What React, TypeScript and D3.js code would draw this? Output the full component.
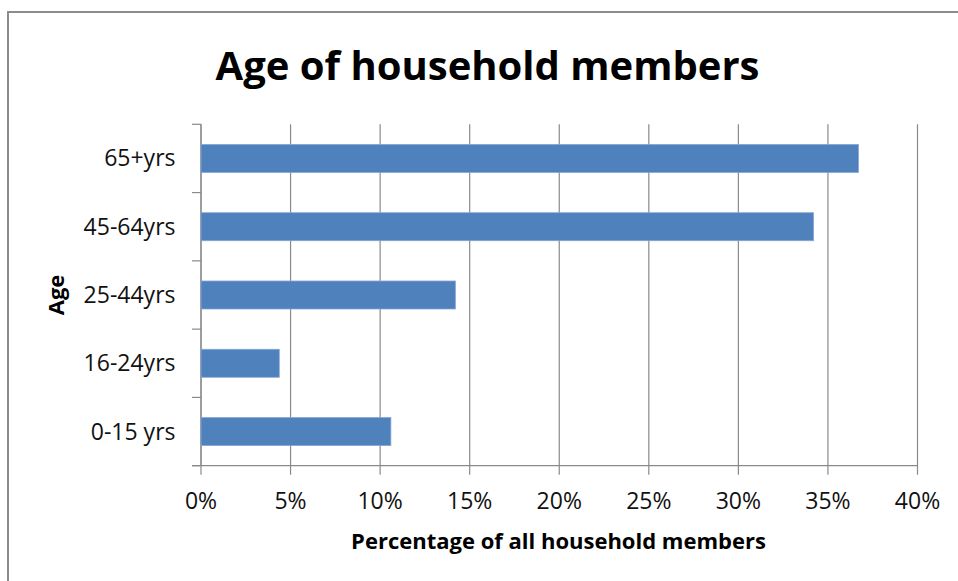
import React from "react";
import * as d3 from "d3";

const categories: string[] = ["65+yrs", "45-64yrs", "25-44yrs", "16-24yrs", "0-15 yrs"];
const values: number[] = [0.367, 0.342, 0.142, 0.0437, 0.106];
const xTicks: number[] = [0, 0.05, 0.1, 0.15, 0.2, 0.25, 0.3, 0.35, 0.4];

const title = "Age of household members";
const xTitle = "Percentage of all household members";
const yTitle = "Age";

const W = 958;
const H = 581;
const FONT = "'Open Sans', 'Noto Sans', sans-serif";

export default function App() {
  const left = 201;
  const right = 917.5;
  const top = 124.3;
  const bottom = 465.7;

  const x = d3.scaleLinear().domain([0, 0.4]).range([left, right]);
  const y = d3
    .scaleBand<string>()
    .domain(categories)
    .range([top, bottom])
    .paddingInner(0.59)
    .paddingOuter(0.295);
  const step = y.step();
  const boundaries = d3.range(categories.length + 1).map((i) => top + i * step);
  const fmt = d3.format(".0%");
  const grid = "#8a8a8a";

  return (
    <svg
      width={W}
      height={H}
      viewBox={`0 0 ${W} ${H}`}
      style={{ position: "absolute", left: 0, top: 0, background: "#fff" }}
    >
      <rect x={0} y={0} width={W} height={H} fill="#fff" />
      <rect x={8} y={12} width={W + 20} height={H + 20} fill="#fff" stroke="#8c8c8c" strokeWidth={2} />

      <text
        x={487.5}
        y={80}
        textAnchor="middle"
        fontFamily={FONT}
        fontWeight="bold"
        fontSize={40}
        fill="#000"
      >
        {title}
      </text>

      {/* vertical gridlines */}
      {xTicks.map((t) => (
        <line key={"g" + t} x1={x(t)} x2={x(t)} y1={top} y2={bottom + 9} stroke={grid} strokeWidth={1.2} />
      ))}

      {/* y axis line and ticks */}
      <line x1={left} x2={left} y1={top} y2={bottom} stroke={grid} strokeWidth={1.2} />
      {boundaries.map((b, i) => (
        <line key={"yt" + i} x1={left - 9} x2={left} y1={b} y2={b} stroke={grid} strokeWidth={1.2} />
      ))}

      {/* x axis line */}
      <line x1={left - 9} x2={right} y1={bottom} y2={bottom} stroke={grid} strokeWidth={1.2} />

      {/* bars */}
      {categories.map((c, i) => (
        <rect
          key={c}
          x={x(0)}
          y={y(c)!}
          width={x(values[i]) - x(0)}
          height={y.bandwidth()}
          fill="#4F81BD"
          stroke="#86a6d6"
          strokeWidth={0.8}
        />
      ))}

      {/* y tick labels */}
      {categories.map((c) => (
        <text
          key={"yl" + c}
          x={175.5}
          y={y(c)! + y.bandwidth() / 2}
          dy="0.35em"
          textAnchor="end"
          fontFamily={FONT}
          fontSize={23}
          fill="#111"
        >
          {c}
        </text>
      ))}

      {/* x tick labels */}
      {xTicks.map((t) => (
        <text
          key={"xl" + t}
          x={x(t)}
          y={509}
          textAnchor="middle"
          fontFamily={FONT}
          fontSize={23}
          fill="#111"
        >
          {fmt(t)}
        </text>
      ))}

      <text
        x={558.5}
        y={549}
        textAnchor="middle"
        fontFamily={FONT}
        fontWeight="bold"
        fontSize={22}
        fill="#000"
      >
        {xTitle}
      </text>

      <text
        transform="translate(64,295) rotate(-90)"
        textAnchor="middle"
        fontFamily={FONT}
        fontWeight="bold"
        fontSize={22}
        fill="#000"
      >
        {yTitle}
      </text>
    </svg>
  );
}
